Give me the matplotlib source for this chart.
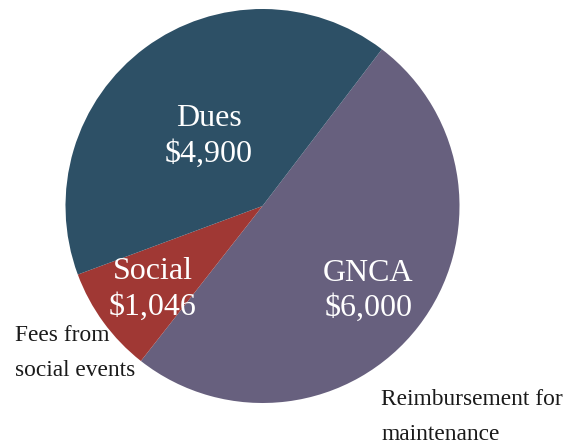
import matplotlib
matplotlib.use("Agg")
import matplotlib.pyplot as plt
import numpy as np

categories = ["GNCA", "Social", "Dues"]
values = [6000, 1046, 4900]
value_labels = ["$6,000", "$1,046", "$4,900"]
colors = ["#67607e", "#a03834", "#2d5066"]
notes = ["Reimbursement for\nmaintenance", "Fees from\nsocial events", None]

plt.rcParams['font.family'] = ['Liberation Serif', 'DejaVu Serif']

W, H = 581, 442
fig = plt.figure(figsize=(W / 100, H / 100), dpi=100)
ax = fig.add_axes([0, 0, 1, 1])

cx, cy, r = 262.5, H - 206, 197
start = 52.7
wedges, _ = ax.pie(values, colors=colors, startangle=start, counterclock=False,
                   center=(cx, cy), radius=r, wedgeprops=dict(linewidth=0))

label_dist = [0.68, 0.69, 0.46]
total = sum(values)
ang = start
for i, (cat, v, vl) in enumerate(zip(categories, values, value_labels)):
    sweep = 360 * v / total
    mid = np.deg2rad(ang - sweep / 2)
    ang -= sweep
    x = cx + label_dist[i] * r * np.cos(mid)
    y = cy + label_dist[i] * r * np.sin(mid) - 3
    ax.text(x, y, f"{cat}\n{vl}", ha="center", va="center", color="white",
            fontsize=23, linespacing=1.3)

note_pos = {0: (381, H - 417), 1: (15, H - 353)}
for i, n in enumerate(notes):
    if n is None:
        continue
    x, y = note_pos[i]
    ax.text(x, y, n, ha="left", va="center", color="#1a1a1a", fontsize=16.8,
            linespacing=1.85)

ax.set_xlim(0, W)
ax.set_ylim(0, H)
ax.set_aspect("equal")
ax.axis("off")
fig.savefig("out.png", dpi=100)
